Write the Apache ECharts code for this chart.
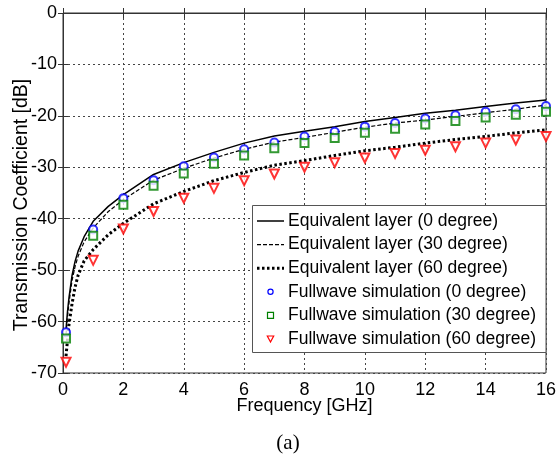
<!DOCTYPE html>
<html>
<head>
<meta charset="utf-8">
<script src="https://cdn.jsdelivr.net/npm/echarts@6/dist/echarts.min.js"></script>
<style>
html,body{margin:0;padding:0;background:#fff;}
#c{width:557px;height:461px;}
</style>
</head>
<body>
<div id="c"></div>
<script>
// Frequency samples for the equivalent-layer curves (GHz)
var freqLine = [0.1,0.15,0.2,0.3,0.4,0.5,0.7,1,1.5,2,3,4,5,6,7,8,9,10,11,12,13,14,15,16];
var eq0  = [-61.5,-58,-55.3,-51,-48.3,-46.3,-43.5,-40.5,-37.6,-35.3,-31.4,-29.1,-27.1,-25.3,-23.9,-23.0,-22.1,-21.1,-20.3,-19.5,-18.9,-18.2,-17.5,-16.9];
var eq30 = [-62.5,-59,-56.3,-52,-49.3,-47.3,-44.5,-41.8,-38.6,-36.3,-32.5,-30.2,-28.2,-26.5,-25.1,-24.2,-23.2,-22.2,-21.4,-20.8,-20.1,-19.4,-18.7,-17.9];
var eq60 = [-66.7,-63.5,-60.5,-56.5,-53.3,-51,-48.2,-46.0,-43.1,-40.9,-37.1,-34.7,-32.6,-31.0,-29.6,-28.7,-27.7,-26.8,-26.1,-25.3,-24.6,-24.0,-23.3,-22.7];

// Fullwave simulation points
var freqSim = [0.1,1,2,3,4,5,6,7,8,9,10,11,12,13,14,15,16];
var fw0  = [-62.1,-42.1,-36.0,-32.5,-29.8,-28.1,-26.5,-25.2,-24.0,-23.1,-22.1,-21.4,-20.5,-19.9,-19.2,-18.7,-18.1];
var fw30 = [-63.3,-43.3,-37.3,-33.6,-31.2,-29.3,-27.7,-26.3,-25.3,-24.3,-23.3,-22.5,-21.7,-21.0,-20.3,-19.8,-19.2];
var fw60 = [-67.9,-48.1,-42.0,-38.6,-36.0,-34.1,-32.6,-31.3,-30.0,-29.1,-28.2,-27.3,-26.7,-26.0,-25.3,-24.7,-24.0];

var names = ['Equivalent layer (0 degree)','Equivalent layer (30 degree)','Equivalent layer (60 degree)',
             'Fullwave simulation (0 degree)','Fullwave simulation (30 degree)','Fullwave simulation (60 degree)'];

function pairs(xs, ys){ return xs.map(function(x,i){return [x, ys[i]];}); }

var font = 'Arial, "Liberation Sans", sans-serif';
var chart = echarts.init(document.getElementById('c'), null, {renderer:'canvas'});
var gridLine = {show:true, lineStyle:{color:'#444', type:[2,3], width:1}};

var lineStyles = [
  {stroke:'#000', lineWidth:1.5},
  {stroke:'#000', lineWidth:1.2, lineDash:[4,2]},
  {stroke:'#000', lineWidth:3, lineDash:[2.5,2.5]}
];
var rowY = [221, 244.6, 268.2, 291.8, 315.4, 339];
var legendG = [{
  type:'rect', shape:{x:252.5, y:205.5, width:293.5, height:147}, z:50,
  style:{fill:'#fff', stroke:'#555', lineWidth:1}
}];
rowY.forEach(function(y, i){
  if (i < 3) {
    legendG.push({type:'line', z:51, shape:{x1:257, y1:y, x2:284, y2:y}, style:lineStyles[i]});
  } else if (i === 3) {
    legendG.push({type:'circle', z:51, shape:{cx:270.5, cy:y, r:2.6}, style:{fill:'none', stroke:'#0000ff', lineWidth:1.2}});
  } else if (i === 4) {
    legendG.push({type:'rect', z:51, shape:{x:267.5, y:y-3, width:6, height:6}, style:{fill:'none', stroke:'#008000', lineWidth:1.2}});
  } else {
    legendG.push({type:'polygon', z:51, shape:{points:[[267.3,y-3],[273.7,y-3],[270.5,y+3]]}, style:{fill:'none', stroke:'#ff0000', lineWidth:1.2}});
  }
  legendG.push({type:'text', z:51, x:288, y:y, style:{text:names[i], fontFamily:font, fontSize:17.5, fill:'#000', textVerticalAlign:'middle', textAlign:'left'}});
});

chart.setOption({
  animation:false,
  backgroundColor:'#fff',
  grid:{left:63, top:13, right:11, bottom:88, show:true, borderColor:'#333', borderWidth:1, backgroundColor:'transparent', outerBoundsMode:'none', containLabel:false},
  xAxis:[{
    type:'value', min:0, max:16, interval:2,
    name:'Frequency [GHz]', nameLocation:'middle', nameGap:24, nameMoveOverlap:false,
    nameTextStyle:{fontFamily:font, fontSize:18, color:'#000', verticalAlign:'top'},
    axisLine:{show:true, lineStyle:{color:'#333'}},
    axisTick:{show:true, inside:true, length:5, lineStyle:{color:'#333'}},
    axisLabel:{fontFamily:font, fontSize:18, color:'#000', margin:8},
    splitLine:gridLine
  },{
    type:'value', min:0, max:16, interval:2, position:'top',
    axisLine:{show:true, lineStyle:{color:'#333'}},
    axisTick:{show:true, inside:true, length:5, lineStyle:{color:'#333'}},
    axisLabel:{show:false}, splitLine:{show:false}
  }],
  yAxis:[{
    type:'value', min:-70, max:0, interval:10,
    axisLine:{show:true, lineStyle:{color:'#333'}},
    axisTick:{show:true, inside:true, length:5, lineStyle:{color:'#333'}},
    axisLabel:{fontFamily:font, fontSize:18, color:'#000', margin:6},
    splitLine:gridLine
  },{
    type:'value', min:-70, max:0, interval:10, position:'right',
    axisLine:{show:true, lineStyle:{color:'#333'}},
    axisTick:{show:true, inside:true, length:5, lineStyle:{color:'#333'}},
    axisLabel:{show:false}, splitLine:{show:false}
  }],
  series:[
    {name:names[0], type:'line', data:pairs(freqLine,eq0), showSymbol:false, symbol:'none',
     lineStyle:{color:'#000', width:1.5, type:'solid'}, itemStyle:{color:'#000'}, z:3},
    {name:names[1], type:'line', data:pairs(freqLine,eq30), showSymbol:false, symbol:'none',
     lineStyle:{color:'#000', width:1.2, type:[4,2]}, itemStyle:{color:'#000'}, z:3},
    {name:names[2], type:'line', data:pairs(freqLine,eq60), showSymbol:false, symbol:'none',
     lineStyle:{color:'#000', width:3, type:[2.5,2.5]}, itemStyle:{color:'#000'}, z:3},
    {name:names[3], type:'scatter', data:pairs(freqSim,fw0), symbol:'emptyCircle', symbolSize:8,
     itemStyle:{color:'#0000ff', borderColor:'#0000ff', borderWidth:1.2}, z:4},
    {name:names[4], type:'scatter', data:pairs(freqSim,fw30), symbol:'emptyRect', symbolSize:8,
     itemStyle:{color:'#008000', borderColor:'#008000', borderWidth:1.2}, z:4},
    {name:names[5], type:'scatter', data:pairs(freqSim,fw60), symbol:'emptyTriangle', symbolSize:9, symbolRotate:180,
     itemStyle:{color:'#ff0000', borderColor:'#ff0000', borderWidth:1.2}, z:4}
  ],
  graphic:legendG.concat([
    {type:'text', x:22, y:205, rotation:Math.PI/2, z:60,
     style:{text:'Transmission Coefficient [dB]', fontFamily:font, fontSize:19.5, fill:'#000', textAlign:'center', textVerticalAlign:'middle'}},
    {type:'text', x:288, y:443, z:60,
     style:{text:'(a)', fontFamily:'"Liberation Serif", "Times New Roman", serif', fontSize:21, fill:'#000', textAlign:'center', textVerticalAlign:'middle'}}
  ])
});
</script>
</body>
</html>
